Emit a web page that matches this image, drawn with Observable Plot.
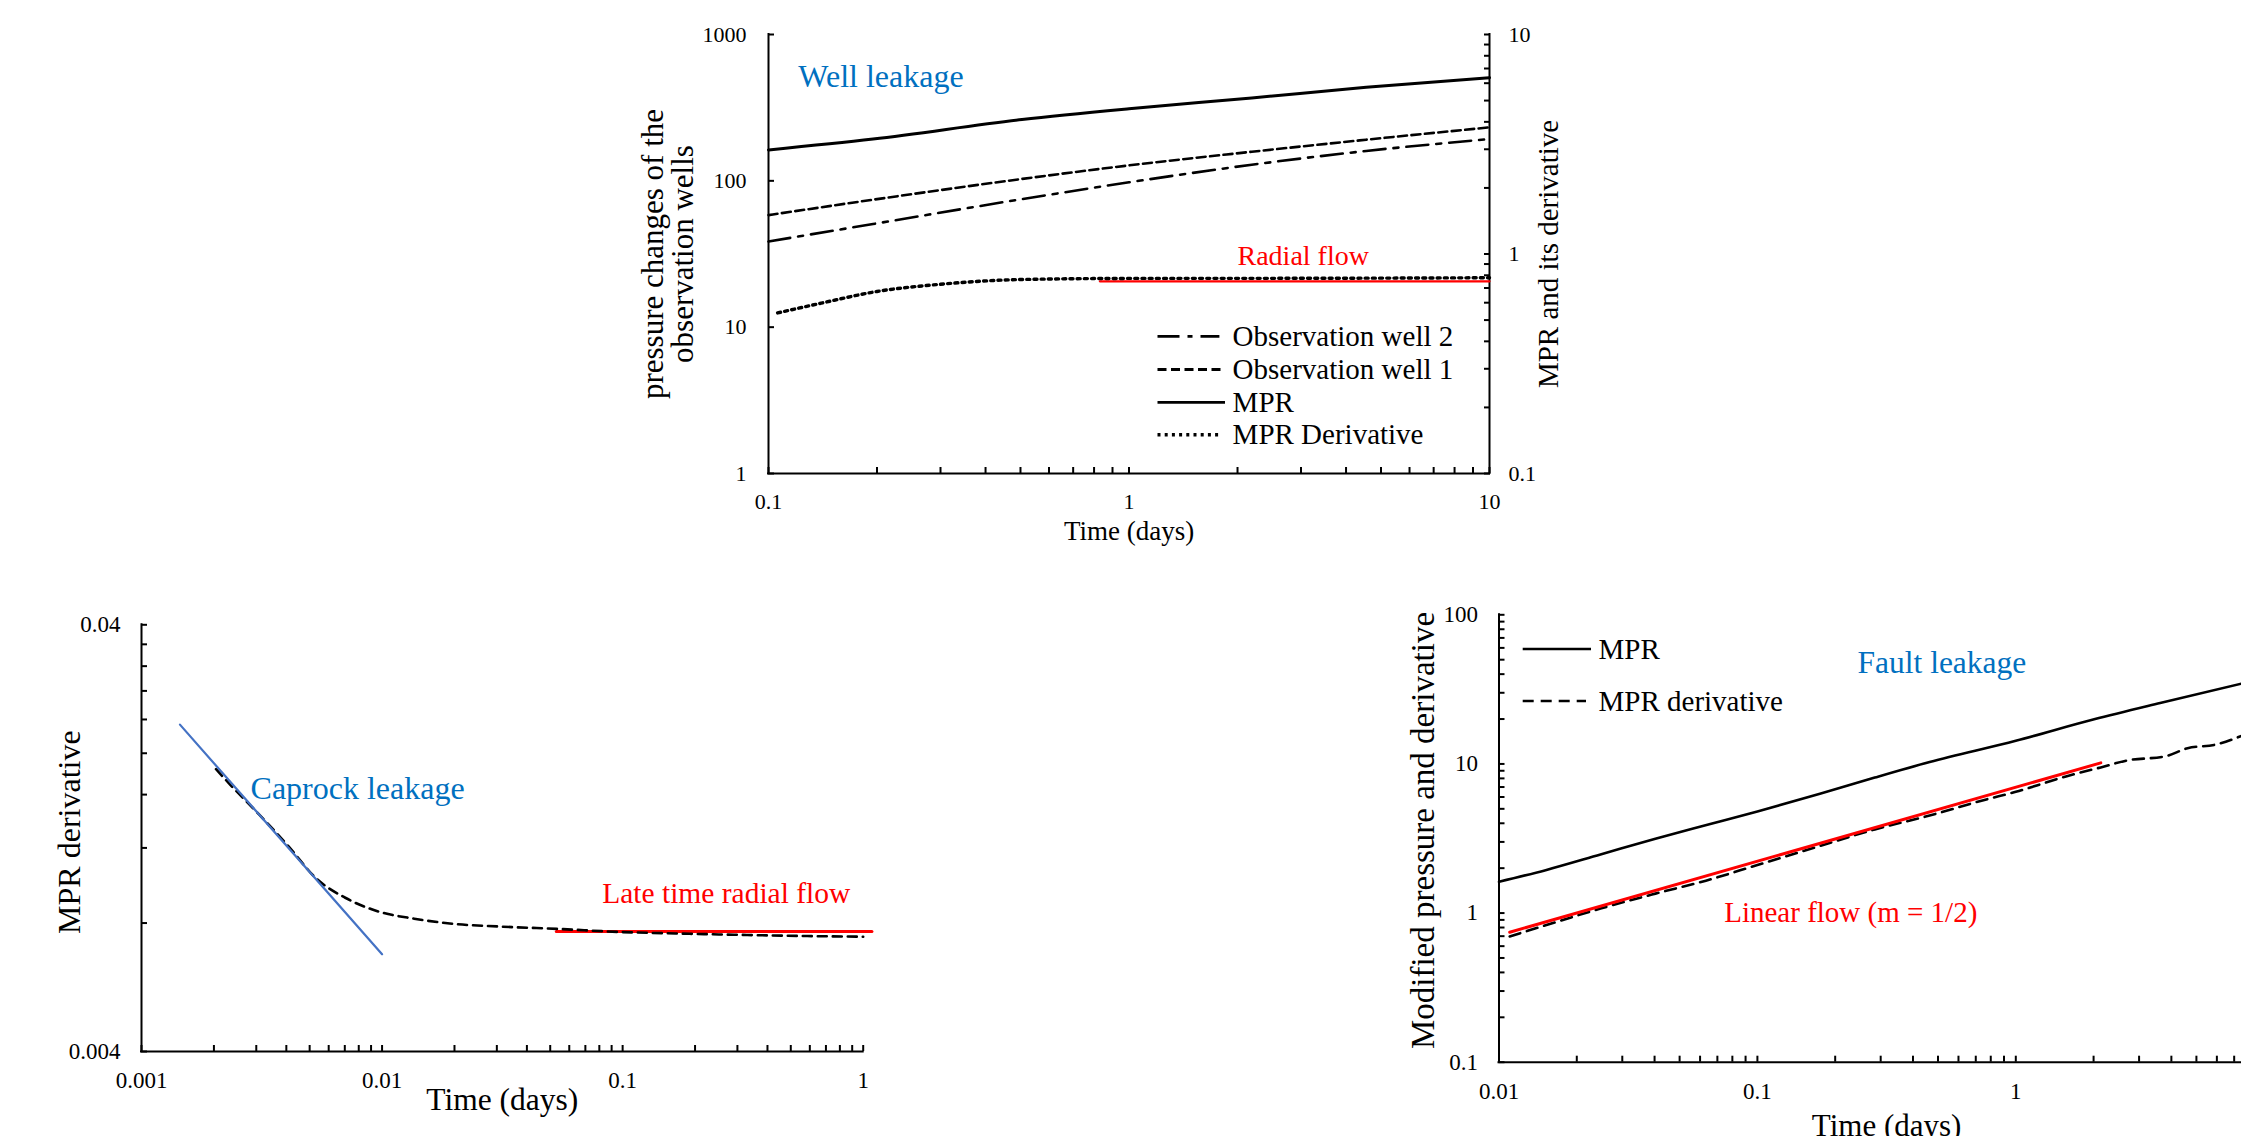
<!DOCTYPE html>
<html>
<head>
<meta charset="utf-8">
<script src="https://cdn.jsdelivr.net/npm/d3@7"></script>
<script src="https://cdn.jsdelivr.net/npm/@observablehq/plot@0.6"></script>
<style>
html, body { margin: 0; padding: 0; background: #fff; overflow: hidden; }
#page { position: relative; width: 2241px; height: 1136px; overflow: hidden; background: #fff; font-family: "Liberation Serif", "Times New Roman", serif; }
#page svg { position: absolute; }
</style>
</head>
<body>
<div id="page"></div>
<script>
// ---------------- DATA ----------------
// Top panel: Well leakage
const wellTime = [0.1, 0.195, 0.505, 1, 2.19, 4.55, 10];
const obsWell1 = [58.3, 74.3, 103, 127.5, 158, 191, 232];
const obsWell2 = [38.5, 50.7, 75, 97.7, 128.8, 160, 193];
const wellMPR = [2.98, 3.34, 4.10, 4.59, 5.14, 5.75, 6.36];            // right axis
const wellDerivTime = [0.106, 0.14, 0.2, 0.3, 0.5, 1, 3, 10];
const wellDeriv = [0.539, 0.597, 0.675, 0.728, 0.765, 0.774, 0.775, 0.7795]; // right axis
const wellRadialTime = [0.83, 10];
const wellRadial = [0.751, 0.751];                                       // right axis
const wellXTicks = [0.1, 1, 10];
const wellXLabels = ["0.1", "1", "10"];
const wellXMinor = [0.2, 0.3, 0.4, 0.5, 0.6, 0.7, 0.8, 0.9, 2, 3, 4, 5, 6, 7, 8, 9];
const wellYTicks = [1, 10, 100, 1000];
const wellYLabels = ["1", "10", "100", "1000"];
const wellY2Ticks = [0.1, 1, 10];
const wellY2Labels = ["0.1", "1", "10"];
const wellY2Minor = [0.2, 0.3, 0.4, 0.5, 0.6, 0.7, 0.8, 0.9, 2, 3, 4, 5, 6, 7, 8, 9];
const wellLegend = ["Observation well 2", "Observation well 1", "MPR", "MPR Derivative"];
const wellNotes = ["Well leakage", "Radial flow"];
const wellNoteX = [0.121, 2.0];
const wellNoteY = [516, 30.4];

// Bottom-left panel: Caprock leakage
const capTime = [0.00204, 0.00234, 0.00308, 0.00406, 0.00534, 0.00703, 0.00968, 0.0136, 0.02, 0.031, 0.054, 0.1, 0.19, 0.33, 0.57, 1];
const capDeriv = [0.01836, 0.01687, 0.01438, 0.01215, 0.01016, 0.00917, 0.00851, 0.00819, 0.00796, 0.00785, 0.00775, 0.00762, 0.00755, 0.0075, 0.00746, 0.00743];
const capLineTime = [0.001445, 0.01];
const capLine = [0.02334, 0.00676];
const capRadialTime = [0.053, 1.087];
const capRadial = [0.00764, 0.00764];
const capXTicks = [0.001, 0.01, 0.1, 1];
const capXLabels = ["0.001", "0.01", "0.1", "1"];
const capXMinor = [0.002, 0.003, 0.004, 0.005, 0.006, 0.007, 0.008, 0.009, 0.02, 0.03, 0.04, 0.05, 0.06, 0.07, 0.08, 0.09, 0.2, 0.3, 0.4, 0.5, 0.6, 0.7, 0.8, 0.9];
const capYTicks = [0.004, 0.04];
const capYLabels = ["0.004", "0.04"];
const capYMinor = [0.008, 0.012, 0.016, 0.02, 0.024, 0.028, 0.032, 0.036];
const capNotes = ["Caprock leakage", "Late time radial flow"];
const capNoteX = [0.00284, 0.0822];
const capNoteY = [0.01653, 0.00938];

// Bottom-right panel: Fault leakage
const faultTime = [0.01, 0.01515, 0.0247, 0.0403, 0.0657, 0.1, 0.1746, 0.2847, 0.464, 1, 2.01, 3.62, 7.6];
const faultMPR = [1.62, 1.94, 2.47, 3.15, 3.95, 4.8, 6.3, 8.1, 10.3, 14.3, 19.9, 25.6, 34.8];
const faultDerivTime = [0.011, 0.01515, 0.0247, 0.0403, 0.0632, 0.1, 0.1746, 0.2847, 0.464, 0.756, 1, 1.576, 2.133, 2.70, 3.80, 4.62, 5.90, 7.6];
const faultDeriv = [0.697, 0.828, 1.072, 1.35, 1.65, 2.10, 2.82, 3.64, 4.51, 5.74, 6.50, 8.28, 9.48, 10.55, 11.26, 12.74, 13.45, 15.6];
const faultLinearTime = [0.011, 2.133];
const faultLinear = [0.744, 10.16];
const faultXTicks = [0.01, 0.1, 1];
const faultXLabels = ["0.01", "0.1", "1"];
const faultXMinor = [0.02, 0.03, 0.04, 0.05, 0.06, 0.07, 0.08, 0.09, 0.2, 0.3, 0.4, 0.5, 0.6, 0.7, 0.8, 0.9, 2, 3, 4, 5, 6, 7, 8, 9];
const faultYTicks = [0.1, 1, 10, 100];
const faultYLabels = ["0.1", "1", "10", "100"];
const faultYMinor = [0.2, 0.3, 0.4, 0.5, 0.6, 0.7, 0.8, 0.9, 2, 3, 4, 5, 6, 7, 8, 9, 20, 30, 40, 50, 60, 70, 80, 90];
const faultLegend = ["MPR", "MPR derivative"];
const faultNotes = ["Fault leakage", "Linear flow (m = 1/2)"];
const faultNoteX = [0.244, 0.0744];
const faultNoteY = [47.9, 1.0];

// ---------------- STYLE ----------------
const SERIF = '"Liberation Serif", "Times New Roman", serif';
const BLUE_TEXT = "#0070C0";
const BLUE_LINE = "#4472C4";
const RED = "#FF0000";
const page = document.getElementById("page");

function style(fs, bg) {
  return {fontFamily: SERIF, fontSize: fs + "px", color: "#000", background: bg || "white", overflow: "visible", maxWidth: "none"};
}
const fmt = (ticks, labels) => d => labels[ticks.indexOf(d)];
function place(el, left, top) {
  el.style.position = "absolute";
  el.style.left = left + "px";
  el.style.top = top + "px";
  page.appendChild(el);
}
const idx = a => a.map((_, i) => i);

// ---------------- TOP PANEL (left axis) ----------------
const topMain = Plot.plot({
  width: 1000, height: 560, marginLeft: 168, marginRight: 111, marginTop: 34, marginBottom: 87,
  style: style(22),
  x: {type: "log", domain: [0.1, 10]},
  y: {type: "log", domain: [1, 1000]},
  marks: [
    Plot.axisY({ticks: wellYTicks, tickSize: 6, insetLeft: 6, fill: "none", strokeWidth: 2}),
    Plot.axisY({ticks: wellYTicks, tickSize: 0, tickPadding: 22, tickFormat: fmt(wellYTicks, wellYLabels), label: null, fontSize: 22}),
    Plot.axisX({ticks: wellXTicks.concat(wellXMinor), tickSize: 6, insetBottom: 6, fill: "none", strokeWidth: 2}),
    Plot.axisX({ticks: wellXTicks, tickSize: 0, tickPadding: 20, tickFormat: fmt(wellXTicks, wellXLabels), label: null, fontSize: 22}),
    Plot.ruleX([0.1], {strokeWidth: 2, strokeLinecap: "square"}),
    Plot.ruleX([10], {strokeWidth: 2, strokeLinecap: "square"}),
    Plot.ruleY([1], {strokeWidth: 2, strokeLinecap: "square"}),
    Plot.line(idx(wellTime), {x: wellTime, y: obsWell2, stroke: "#000", strokeWidth: 2.6, strokeDasharray: "22,8,5,8", curve: "monotone-x"}),
    Plot.line(idx(wellTime), {x: wellTime, y: obsWell1, stroke: "#000", strokeWidth: 2.6, strokeDasharray: "9,4.5", curve: "monotone-x"}),
    Plot.text(idx(wellNotes), {x: wellNoteX, y: wellNoteY, text: wellNotes, fill: [BLUE_TEXT, RED], fontSize: [32, 28], textAnchor: "start"}),
    Plot.text(["Time (days)"], {text: d => d, frameAnchor: "bottom", lineAnchor: "middle", dy: 58, fontSize: 27}),
    Plot.text(["pressure changes of the\nobservation wells"], {text: d => d, frameAnchor: "left", textAnchor: "middle", lineAnchor: "middle", dx: -100, rotate: -90, fontSize: 31, lineHeight: 0.95})
  ]
});
place(topMain, 600, 0);

// ---------------- TOP PANEL (right axis overlay) ----------------
const topRight = Plot.plot({
  width: 1000, height: 560, marginLeft: 168, marginRight: 111, marginTop: 34, marginBottom: 87,
  style: style(22, "transparent"),
  x: {type: "log", domain: [0.1, 10], axis: null},
  y: {type: "log", domain: [0.1, 10]},
  marks: [
    Plot.axisY({anchor: "right", ticks: wellY2Ticks.concat(wellY2Minor), tickSize: 6, insetRight: 6, fill: "none", strokeWidth: 2}),
    Plot.axisY({anchor: "right", ticks: wellY2Ticks, tickSize: 0, tickPadding: 19, tickFormat: fmt(wellY2Ticks, wellY2Labels), label: null, fontSize: 22}),
    Plot.line(idx(wellRadialTime), {x: wellRadialTime, y: wellRadial, stroke: RED, strokeWidth: 2.2}),
    Plot.line(idx(wellTime), {x: wellTime, y: wellMPR, stroke: "#000", strokeWidth: 3, curve: "monotone-x"}),
    Plot.line(idx(wellDerivTime), {x: wellDerivTime, y: wellDeriv, stroke: "#000", strokeWidth: 3.4, strokeDasharray: "3,4.2", curve: "monotone-x"}),
    Plot.text(["MPR and its derivative"], {text: d => d, frameAnchor: "right", textAnchor: "middle", lineAnchor: "middle", dx: 59, rotate: -90, fontSize: 29})
  ]
});
place(topRight, 600, 0);

// ---------------- BOTTOM-LEFT PANEL ----------------
const capPlot = Plot.plot({
  width: 900, height: 546, marginLeft: 141, marginRight: 37.3, marginTop: 34.3, marginBottom: 85,
  style: style(23),
  x: {type: "log", domain: [0.001, 1]},
  y: {type: "log", domain: [0.004, 0.04]},
  marks: [
    Plot.axisY({ticks: capYTicks.concat(capYMinor), tickSize: 6, insetLeft: 6, fill: "none", strokeWidth: 2}),
    Plot.axisY({ticks: capYTicks, tickSize: 0, tickPadding: 21, tickFormat: fmt(capYTicks, capYLabels), label: null, fontSize: 23}),
    Plot.axisX({ticks: capXTicks.concat(capXMinor), tickSize: 6, insetBottom: 6, fill: "none", strokeWidth: 2}),
    Plot.axisX({ticks: capXTicks, tickSize: 0, tickPadding: 20, tickFormat: fmt(capXTicks, capXLabels), label: null, fontSize: 23}),
    Plot.ruleX([0.001], {strokeWidth: 2, strokeLinecap: "square"}),
    Plot.ruleY([0.004], {strokeWidth: 2, strokeLinecap: "square"}),
    Plot.line(idx(capRadialTime), {x: capRadialTime, y: capRadial, stroke: RED, strokeWidth: 3}),
    Plot.line(idx(capTime), {x: capTime, y: capDeriv, stroke: "#000", strokeWidth: 2.6, strokeDasharray: "9,6", curve: "monotone-x"}),
    Plot.line(idx(capLineTime), {x: capLineTime, y: capLine, stroke: BLUE_LINE, strokeWidth: 2.2}),
    Plot.text(idx(capNotes), {x: capNoteX, y: capNoteY, text: capNotes, fill: [BLUE_TEXT, RED], fontSize: [32, 29.5], textAnchor: "start"}),
    Plot.text(["Time (days)"], {text: d => d, frameAnchor: "bottom", lineAnchor: "middle", dy: 48, fontSize: 31.5}),
    Plot.text(["MPR derivative"], {text: d => d, frameAnchor: "left", textAnchor: "middle", lineAnchor: "middle", dx: -72, dy: -6, rotate: -90, fontSize: 32})
  ]
});
place(capPlot, 0, 590);

// ---------------- BOTTOM-RIGHT PANEL ----------------
const faultPlot = Plot.plot({
  width: 920, height: 546, marginLeft: 118.5, marginRight: 26.3, marginTop: 24.3, marginBottom: 74.3,
  style: style(23),
  x: {type: "log", domain: [0.01, 10]},
  y: {type: "log", domain: [0.1, 100]},
  marks: [
    Plot.axisY({ticks: faultYTicks.concat(faultYMinor), tickSize: 6, insetLeft: 6, fill: "none", strokeWidth: 2}),
    Plot.axisY({ticks: faultYTicks, tickSize: 0, tickPadding: 21, tickFormat: fmt(faultYTicks, faultYLabels), label: null, fontSize: 23}),
    Plot.axisX({ticks: faultXTicks.concat(faultXMinor), tickSize: 6, insetBottom: 6, fill: "none", strokeWidth: 2}),
    Plot.axisX({ticks: faultXTicks, tickSize: 0, tickPadding: 20, tickFormat: fmt(faultXTicks, faultXLabels), label: null, fontSize: 23}),
    Plot.ruleX([0.01], {strokeWidth: 2, strokeLinecap: "square"}),
    Plot.ruleY([0.1], {strokeWidth: 2, strokeLinecap: "square"}),
    Plot.line(idx(faultTime), {x: faultTime, y: faultMPR, stroke: "#000", strokeWidth: 2.6, curve: "monotone-x"}),
    Plot.line(idx(faultDerivTime), {x: faultDerivTime, y: faultDeriv, stroke: "#000", strokeWidth: 2.6, strokeDasharray: "11,7", curve: "monotone-x"}),
    Plot.line(idx(faultLinearTime), {x: faultLinearTime, y: faultLinear, stroke: RED, strokeWidth: 3}),
    Plot.text(idx(faultNotes), {x: faultNoteX, y: faultNoteY, text: faultNotes, fill: [BLUE_TEXT, RED], fontSize: [31.5, 29], textAnchor: "start"}),
    Plot.text(["Time (days)"], {text: d => d, frameAnchor: "bottom", lineAnchor: "middle", dy: 64, fontSize: 31}),
    Plot.text(["Modified pressure and derivative"], {text: d => d, frameAnchor: "left", textAnchor: "middle", lineAnchor: "middle", dx: -76, dy: -8, rotate: -90, fontSize: 33})
  ]
});
place(faultPlot, 1380, 590);

// ---------------- LEGENDS (overlay) ----------------
const NS = "http://www.w3.org/2000/svg";
const ov = document.createElementNS(NS, "svg");
ov.setAttribute("width", 2241);
ov.setAttribute("height", 1136);
ov.style.left = "0px"; ov.style.top = "0px"; ov.style.pointerEvents = "none";
page.appendChild(ov);
function legendRow(x1, x2, y, tx, label, dash, sw, fs) {
  const l = document.createElementNS(NS, "line");
  l.setAttribute("x1", x1); l.setAttribute("x2", x2); l.setAttribute("y1", y); l.setAttribute("y2", y);
  l.setAttribute("stroke", "#000"); l.setAttribute("stroke-width", sw);
  if (dash) l.setAttribute("stroke-dasharray", dash);
  ov.appendChild(l);
  const t = document.createElementNS(NS, "text");
  t.setAttribute("x", tx); t.setAttribute("y", y); t.setAttribute("dy", "0.33em");
  t.setAttribute("font-family", SERIF); t.setAttribute("font-size", fs);
  t.textContent = label;
  ov.appendChild(t);
}
const wellLegendDash = ["22,8,5,8", "9,4.5", null, "3,4.2"];
const wellLegendY = [336.3, 369.5, 402.3, 434.8];
const wellLegendEnd = [1219.4, 1225, 1225, 1219.4];
wellLegend.forEach((s, i) => legendRow(1157.5, wellLegendEnd[i], wellLegendY[i], 1232.6, s, wellLegendDash[i], i === 3 ? 3.4 : 2.8, 29));
const faultLegendDash = [null, "11,7"];
const faultLegendY = [649, 701];
const faultLegendEnd = [1591, 1586];
faultLegend.forEach((s, i) => legendRow(1522.7, faultLegendEnd[i], faultLegendY[i], 1598.5, s, faultLegendDash[i], 2.6, 29));
</script>
</body>
</html>
